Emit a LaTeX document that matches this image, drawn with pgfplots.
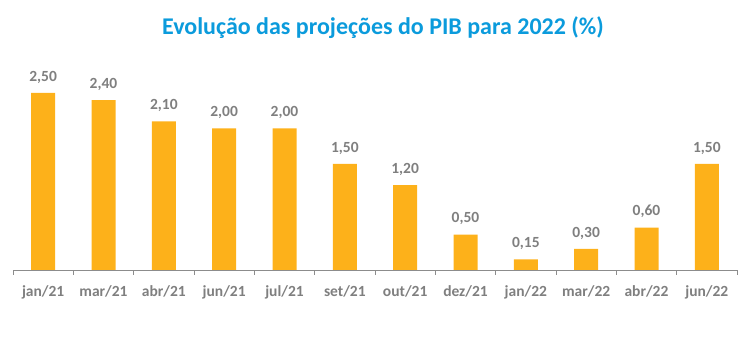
\documentclass[border=0pt]{standalone}
\usepackage{pgfplots}
\pgfplotsset{compat=1.18}
\usepackage{fontspec}
\setmainfont{Carlito}
\definecolor{barc}{HTML}{FDB11A}
\definecolor{txtg}{HTML}{7F7F7F}
\definecolor{axg}{HTML}{8C8C8C}
\definecolor{titc}{HTML}{0B9BDC}
\begin{document}
\begin{tikzpicture}
\path[use as bounding box] (0,0) rectangle (750bp,355bp);
\node[font=\fontsize{24bp}{28bp}\selectfont\bfseries, text=titc] at (383bp,327bp) {Evolução das projeções do PIB para 2022 (\%)};
\begin{axis}[
  at={(13bp,85bp)}, anchor=south west,
  scale only axis, width=724bp, height=212.4bp,
  xmin=-0.5, xmax=11.5, ymin=0, ymax=3,
  axis y line=none, axis x line*=bottom,
  axis line style={axg, line width=1pt},
  xtick={0,...,11},
  xticklabels={jan/21,mar/21,abr/21,jun/21,jul/21,set/21,out/21,dez/21,jan/22,mar/22,abr/22,jun/22},
  major tick length=0pt,
  minor xtick={-0.5,0.5,...,11.5},
  minor tick length=5bp,
  tick align=outside,
  minor tick style={axg, line width=1pt},
  x tick label style={font=\fontsize{15.5bp}{18bp}\selectfont\bfseries, text=txtg, yshift=-12bp},
  ybar, bar width=24bp,
  nodes near coords,
  every node near coord/.append style={font=\fontsize{15.5bp}{18bp}\selectfont\bfseries, text=txtg, yshift=6bp},
  /pgf/number format/.cd, use comma, fixed, fixed zerofill, precision=2, assume math mode=true,
]
\addplot[fill=barc, draw=none] coordinates {
(0,2.50) (1,2.40) (2,2.10) (3,2.00) (4,2.00) (5,1.50) (6,1.20) (7,0.50) (8,0.15) (9,0.30) (10,0.60) (11,1.50)
};
\end{axis}
\end{tikzpicture}
\end{document}
